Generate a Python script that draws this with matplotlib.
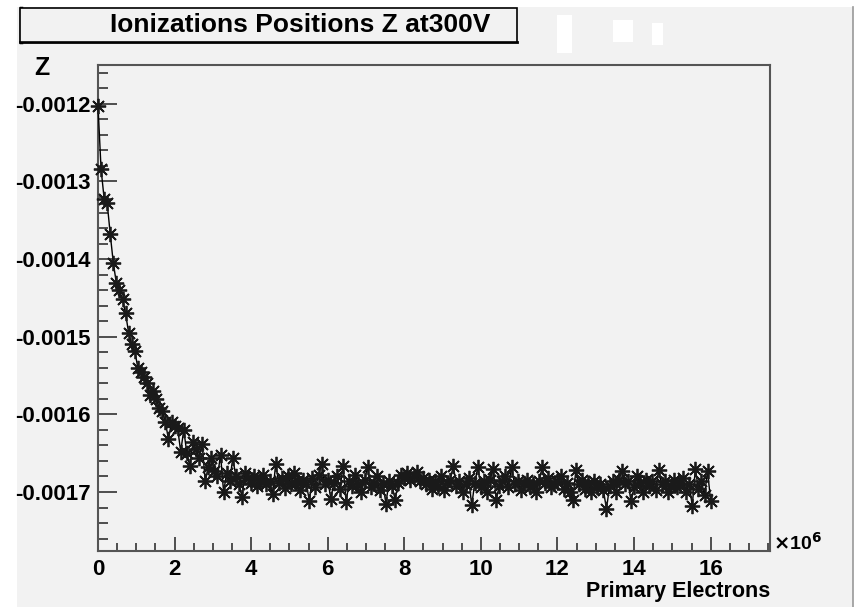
import numpy as np
import matplotlib
matplotlib.use("Agg")
import matplotlib.pyplot as plt
from matplotlib.patches import Rectangle
from matplotlib.ticker import MultipleLocator, FuncFormatter

plt.rcParams['font.family'] = ['Liberation Sans', 'DejaVu Sans']
plt.rcParams['font.weight'] = 'bold'

# mean Z of ionizations (in units of 1e-6), one point every 0.08e6 primary electrons
z_e6 = [
    -1203, -1284, -1322, -1328, -1368, -1405, -1431, -1440, -1452, -1470,
    -1495, -1510, -1518, -1540, -1545, -1552, -1560, -1575, -1570, -1580,
    -1592, -1596, -1610, -1632, -1610, -1615, -1618, -1648, -1620, -1650,
    -1667, -1636, -1645, -1656, -1638, -1686, -1668, -1656, -1673, -1680,
    -1652, -1700, -1676, -1686, -1656, -1680, -1690, -1706, -1675, -1682,
    -1688, -1680, -1692, -1684, -1678, -1690, -1686, -1703, -1664, -1688,
    -1682, -1695, -1680, -1690, -1676, -1686, -1698, -1684, -1690, -1711,
    -1682, -1694, -1678, -1664, -1690, -1684, -1709, -1688, -1680, -1696,
    -1666, -1713, -1686, -1692, -1678, -1690, -1700, -1684, -1668, -1694,
    -1688, -1680, -1698, -1690, -1715, -1686, -1692, -1710, -1688, -1678,
    -1682, -1676, -1684, -1680, -1674, -1686, -1682, -1690, -1684, -1696,
    -1686, -1692, -1680, -1698, -1688, -1684, -1666, -1692, -1686, -1700,
    -1690, -1682, -1717, -1688, -1668, -1694, -1686, -1700, -1684, -1670,
    -1710, -1692, -1686, -1680, -1694, -1668, -1690, -1686, -1698, -1688,
    -1684, -1694, -1690, -1700, -1686, -1668, -1688, -1682, -1694, -1690,
    -1686, -1680, -1696, -1688, -1700, -1710, -1672, -1690, -1684, -1696,
    -1688, -1700, -1686, -1694, -1690, -1698, -1722, -1692, -1686, -1700,
    -1684, -1673, -1690, -1686, -1712, -1694, -1680, -1688, -1700, -1684,
    -1692, -1686, -1698, -1672, -1690, -1686, -1700, -1692, -1684, -1694,
    -1688, -1682, -1700, -1690, -1718, -1670, -1696, -1686, -1704, -1673,
    -1712,
]
x_max = 16.0  # x10^6 primary electrons
x_ticks = [0, 2, 4, 6, 8, 10, 12, 14, 16]
y_ticks = [-0.0017, -0.0016, -0.0015, -0.0014, -0.0013, -0.0012]

z = np.array(z_e6) * 1e-6
x = np.linspace(0, x_max, len(z))

W, H = 856, 607
bg = '#f2f2f2'
fig = plt.figure(figsize=(W / 100, H / 100), dpi=100, facecolor='white')

# grey ROOT canvas
fig.patches.append(Rectangle((17 / W, 0), (853 - 17) / W, 1 - 7 / H,
                             transform=fig.transFigure, facecolor=bg,
                             edgecolor='none', zorder=-5))
fig.add_artist(plt.Line2D([853 / W, 853 / W], [0, 1 - 7 / H], color='#999999', lw=1.2, zorder=-4))

ax = fig.add_axes([98 / W, 1 - 551 / H, 672 / W, 486 / H], zorder=1)
ax.set_facecolor(bg)

ax.plot(x, z, color='black', lw=1.0, marker=(8, 2, 0), ms=11, mew=1.3,
        mec='#1a1a1a', clip_on=False, zorder=3)

ax.set_xlim(0, 17.55)
ax.set_ylim(-0.001776, -0.00115)

ax.set_xticks(x_ticks)
ax.xaxis.set_minor_locator(MultipleLocator(0.5))
ax.set_yticks(y_ticks)
ax.yaxis.set_minor_locator(MultipleLocator(0.00002))
ax.yaxis.set_major_formatter(FuncFormatter(lambda v, p: f"{v:.4f}"))
ax.tick_params(axis='y', which='major', direction='in', length=14, width=1.2,
               color='#333333', labelsize=16, pad=5)
ax.tick_params(axis='y', which='minor', direction='in', length=7, width=1.2, color='#333333')
ax.tick_params(axis='x', which='major', direction='in', length=10, width=1.2,
               color='#333333', labelsize=16, pad=6)
ax.tick_params(axis='x', which='minor', direction='in', length=5.5, width=1.2, color='#333333')
for lab in ax.get_xticklabels() + ax.get_yticklabels():
    lab.set_fontweight('bold')
for s in ax.spines.values():
    s.set_color('#555555')
    s.set_linewidth(1.5)

# axis titles
fig.text(770 / W, 1 - 591 / H, 'Primary Electrons', ha='right', va='center',
         fontsize=15.5, fontweight='bold', zorder=5)
fig.text(773 / W, 1 - 543 / H, r'$\times$10$^{6}$', ha='left', va='center',
         fontsize=14, fontweight='bold', zorder=5)
fig.text(42 / W, 1 - 68 / H, 'Z', ha='center', va='center', fontsize=18,
         fontweight='bold', zorder=5)

# title box
fig.patches.append(Rectangle((20 / W, 1 - 42 / H), (517 - 20) / W, 34 / H,
                             transform=fig.transFigure, facecolor=bg,
                             edgecolor='black', lw=1.2, zorder=4))
fig.add_artist(plt.Line2D([21 / W, 21 / W], [1 - 42 / H, 1 - 8 / H], color='black', lw=2.5, zorder=4))
fig.add_artist(plt.Line2D([20 / W, 517 / W], [1 - 42 / H, 1 - 42 / H], color='black', lw=2, zorder=4))
fig.text(300 / W, 1 - 25 / H, 'Ionizations Positions Z at300V', ha='center', va='center',
         fontsize=19, fontweight='bold', zorder=5)

# white blotches on the canvas
for (x0, y0, x1, y1) in [(557, 15, 572, 53), (613, 20, 633, 42), (652, 23, 663, 45)]:
    fig.patches.append(Rectangle((x0 / W, 1 - y1 / H), (x1 - x0) / W, (y1 - y0) / H,
                                 transform=fig.transFigure, facecolor='white',
                                 edgecolor='none', zorder=-3))

fig.savefig('out.png', dpi=100, facecolor=fig.get_facecolor())
